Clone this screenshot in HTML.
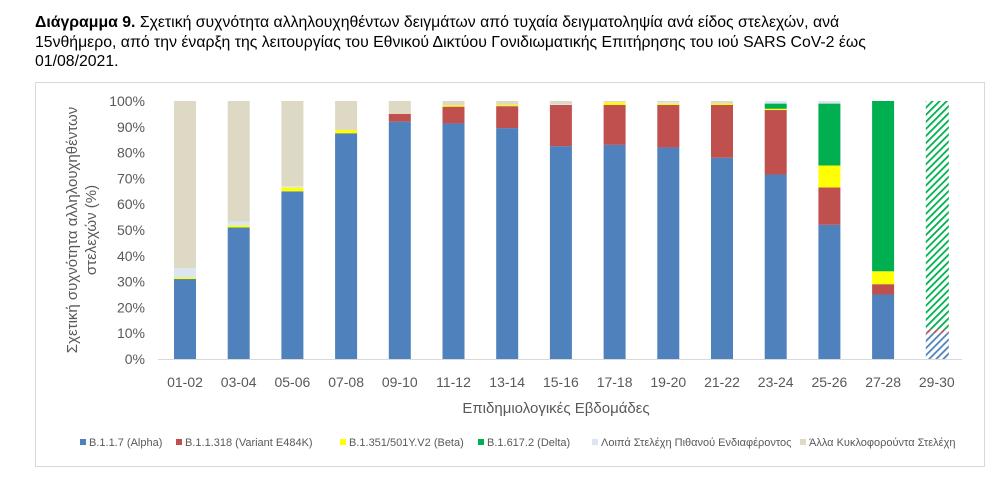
<!DOCTYPE html>
<html><head><meta charset="utf-8"><style>
body{margin:0;background:#fff;width:995px;height:482px;overflow:hidden;font-family:"Liberation Sans Narrow","Liberation Sans",sans-serif}
.t{position:absolute;left:35px;top:13px;width:940px;font-size:15.5px;line-height:19.5px;color:#000;transform:scaleX(1.02);transform-origin:left top;white-space:nowrap}
</style></head><body>
<div class="t"><b>Διάγραμμα 9.</b> Σχετική συχνότητα αλληλουχηθέντων δειγμάτων από τυχαία δειγματοληψία ανά είδος στελεχών, ανά<br>15νθήμερο, από την έναρξη της λειτουργίας του Εθνικού Δικτύου Γονιδιωματικής Επιτήρησης του ιού SARS CoV-2 έως<br>01/08/2021.</div>
<svg id="s" width="995" height="482" style="position:absolute;left:0;top:0" font-family="Liberation Sans, sans-serif">
<defs>
<pattern id="hg" width="5" height="5" patternUnits="userSpaceOnUse" patternTransform="rotate(45)"><rect width="5" height="5" fill="#fff"/><rect width="1.8" height="5" fill="#00b050"/></pattern>
<pattern id="hb" width="5" height="5" patternUnits="userSpaceOnUse" patternTransform="rotate(45)"><rect width="5" height="5" fill="#fff"/><rect width="1.8" height="5" fill="#4f81bd"/></pattern>
<pattern id="hr" width="5" height="5" patternUnits="userSpaceOnUse" patternTransform="rotate(45)"><rect width="5" height="5" fill="#fff"/><rect width="1.8" height="5" fill="#c0504d"/></pattern>
</defs>
<rect x="35.5" y="82.5" width="949" height="384" fill="#fff" stroke="#d9d9d9"/>
<g id="g"></g>
</svg>
<script>
var g=document.getElementById('g'),h='';
var y0=359,sc=2.58;
for(var i=0;i<=10;i++){var y=y0-i*10*sc;h+='<text x="145" y="'+(y+5)+'" font-size="14" fill="#595959" text-anchor="end">'+(i*10)+'%</text>';}
h+='<line x1="158" y1="359.5" x2="962" y2="359.5" stroke="#d9d9d9"/>';
var C=['#4f81bd','#c0504d','#ffff00','#00b050','#dce6f2','#ddd9c4'];
var D=[[31,0,.6,0,3.6],[51,0,.8,0,1.5],[65,0,1.5,0,.5],[87.5,0,1.3,0,0],[92,3,0,0,0],[91.3,6.5,.5,0,0],[89.5,8.5,.5,0,0],[82.5,16,0,0,.3],[83,15.5,1,0,0],[82,16.5,.5,0,.5],[78,20.5,.5,0,0],[71.5,25,.5,2,1],[52,14.5,8.5,24,1],[25,4,5,66,0]];
var L=['01-02','03-04','05-06','07-08','09-10','11-12','13-14','15-16','17-18','19-20','21-22','23-24','25-26','27-28','29-30'];
for(var k=0;k<15;k++){var cx=185+k*53.7,x=cx-11,acc=0;
 if(k<14){var d=D[k].slice(),s=d.reduce(function(a,b){return a+b},0);d.push(Math.max(0,100-s));
  for(var j=0;j<6;j++){if(d[j]<=0)continue;var yt=y0-(acc+d[j])*sc,hh=d[j]*sc;h+='<rect x="'+x+'" y="'+yt+'" width="22" height="'+hh+'" fill="'+C[j]+'"/>';acc+=d[j];}}
 else{var seg=[[10,'hb'],[1.5,'hr'],[88.5,'hg']];for(var j=0;j<3;j++){var yt=y0-(acc+seg[j][0])*sc;h+='<rect x="'+x+'" y="'+yt+'" width="23" height="'+seg[j][0]*sc+'" fill="url(#'+seg[j][1]+')"/>';acc+=seg[j][0];}}
 h+='<text x="'+cx+'" y="387" font-size="14" fill="#595959" text-anchor="middle">'+L[k]+'</text>';}
h+='<text x="556" y="413" font-size="15" fill="#595959" text-anchor="middle">Επιδημιολογικές Εβδομάδες</text>';
h+='<text transform="translate(77,230) rotate(-90)" font-size="15" fill="#595959" text-anchor="middle"><tspan x="0" y="0">Σχετική συχνότητα αλληλουχηθέντων</tspan><tspan x="0" y="19">στελεχών (%)</tspan></text>';
var LG=[['B.1.1.7 (Alpha)',80],['B.1.1.318 (Variant E484K)',176],['B.1.351/501Y.V2 (Beta)',340],['B.1.617.2 (Delta)',478],['Λοιπά Στελέχη Πιθανού Ενδιαφέροντος',592],['Άλλα Κυκλοφορούντα Στελέχη',800]];
for(var j=0;j<6;j++){h+='<rect x="'+LG[j][1]+'" y="439" width="6" height="6" fill="'+C[j]+'"/><text x="'+(LG[j][1]+9)+'" y="446" font-size="11" fill="#595959">'+LG[j][0]+'</text>';}
g.innerHTML=h;
</script>
</body></html>
